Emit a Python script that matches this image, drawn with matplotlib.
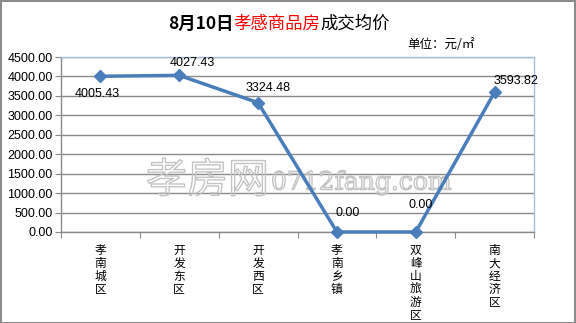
import matplotlib
matplotlib.use("Agg")
import matplotlib.pyplot as plt
import matplotlib.patheffects as pe
from matplotlib.patches import Rectangle

plt.rcParams['font.family'] = ['Noto Sans CJK SC', 'DejaVu Sans']

categories = ["孝南城区", "开发东区", "开发西区", "孝南乡镇", "双峰山旅游区", "南大经济区"]
values = [4005.43, 4027.43, 3324.48, 0.00, 0.00, 3593.82]
yticks = [0, 500, 1000, 1500, 2000, 2500, 3000, 3500, 4000, 4500]
label_offsets = [(-3, -18), (13, 12), (10, 15), (11, 19), (5, 27), (21, 11)]

W, H = 576, 323
fig = plt.figure(figsize=(W / 100, H / 100), dpi=100)
fig.patch.set_facecolor('white')
fig.patches.append(Rectangle((0.5 / W, 0.5 / H), 1 - 1.5 / W, 1 - 1.5 / H, transform=fig.transFigure,
                             fill=False, edgecolor='#8c8c8c', linewidth=1.5))

left, right, top, bottom = 61, 534, 57, 232
ax = fig.add_axes([left / W, 1 - bottom / H, (right - left) / W, (bottom - top) / H])
x = list(range(len(categories)))
ax.set_xlim(-0.5, len(categories) - 0.5)
ax.set_ylim(0, 4500)
ax.set_yticks(yticks)
ax.set_yticklabels([f"{v:.2f}" for v in yticks], fontsize=9, family=['Liberation Sans'])
ax.grid(axis='y', color='#8a8a8a', linewidth=1)
ax.set_axisbelow(True)
for s in ['top', 'right']:
    ax.spines[s].set_color('#a8c0e0')
    ax.spines[s].set_linewidth(1)
for s in ['left', 'bottom']:
    ax.spines[s].set_color('#8a8a8a')
    ax.spines[s].set_linewidth(1)
ax.tick_params(axis='y', length=4, color='#8a8a8a', pad=2)
ax.set_xticks([i - 0.5 for i in range(len(categories) + 1)])
ax.set_xticklabels([])
ax.tick_params(axis='x', length=4, color='#8a8a8a', direction='out')

ax.plot(x, values, color='#4a7ebb', linewidth=2.5, marker='D', markersize=6.5,
        markerfacecolor='#4a7ebb', markeredgecolor='#4a7ebb', zorder=3, clip_on=False)

for i, v in enumerate(values):
    dx, dy = label_offsets[i]
    ax.annotate(f"{v:.2f}", (i, v), xytext=(dx, dy), textcoords='offset pixels',
                ha='center', va='center', fontsize=9, family=['Liberation Sans'], zorder=4)

for i, c in enumerate(categories):
    ax.text(i, -0.07, "\n".join(c), transform=ax.get_xaxis_transform(), ha='center', va='top',
            fontsize=8.5, linespacing=1.0)

# watermark (outline only, above grid, below line)
wm = dict(color=(1, 1, 1, 0), transform=fig.transFigure, ha='left', va='center', zorder=2,
          path_effects=[pe.Stroke(linewidth=1.0, foreground='#c4c4c4')])
ax.text(146 / W, 1 - 181 / H, "孝房网", fontsize=29.5, **wm)
ax.text(271 / W, 1 - 183 / H, "0712fang.com", fontsize=18, family=['DejaVu Serif'], **wm)

# title, pieces laid out contiguously
fig.canvas.draw()
r = fig.canvas.get_renderer()
xpos = 168
ty = 1 - 24 / H
for txt, kw in [("8月10日", dict(fontweight='bold', color='black')),
                ("孝感商品房", dict(color='#ff0000')),
                ("成交均价", dict(color='black'))]:
    t = fig.text(xpos / W, ty, txt, fontsize=12.5, ha='left', va='center', **kw)
    xpos += t.get_window_extent(renderer=r).width
fig.text(407 / W, 1 - 44 / H, "单位：元/㎡", fontsize=9, ha='left', va='center')

fig.savefig("out.png", dpi=100)
